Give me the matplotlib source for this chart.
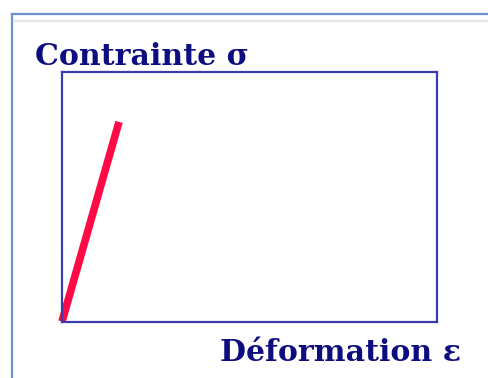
import matplotlib
matplotlib.use("Agg")
import matplotlib.pyplot as plt
from matplotlib.lines import Line2D

# Elastic stage of a stress-strain curve (arbitrary units)
strain = [0.0, 0.152]
stress = [0.0, 0.80]
y_label = "Contrainte σ"
x_label = "Déformation ε"

W, H, DPI = 488, 378, 100
fig = plt.figure(figsize=(W / DPI, H / DPI), dpi=DPI)
fig.patch.set_facecolor("white")

def px(x, y):
    return x / W, 1 - y / H

# Slide-style frame around the drawing
fig.add_artist(Line2D([11.5 / W, 1], [1 - 13.5 / H] * 2, color="#6d93cf", lw=1.6))
fig.add_artist(Line2D([11.5 / W] * 2, [0, 1 - 13.5 / H], color="#6d93cf", lw=1.6))
fig.add_artist(Line2D([14 / W, 1], [1 - 20.5 / H] * 2, color="#e4e4e4", lw=1.6))

# Axes box
left, top, right, bottom = 62, 72, 437, 321.5
ax = fig.add_axes([left / W, 1 - bottom / H, (right - left) / W, (bottom - top) / H])
ax.set_xlim(0, 1)
ax.set_ylim(0, 1)
ax.set_xticks([])
ax.set_yticks([])
for s in ax.spines.values():
    s.set_color("#3b3bab")
    s.set_linewidth(1.6)

ax.plot(strain, stress, color="#ff0a45", lw=5.5, solid_capstyle="butt", clip_on=False)

font = dict(family="DejaVu Serif", weight="bold", color="#0d0d80", fontsize=21.6)
fig.text(*px(35, 65), y_label, ha="left", va="baseline", **font)
fig.text(*px(220, 361), x_label, ha="left", va="baseline", **font)

fig.savefig("out.png", dpi=DPI)
